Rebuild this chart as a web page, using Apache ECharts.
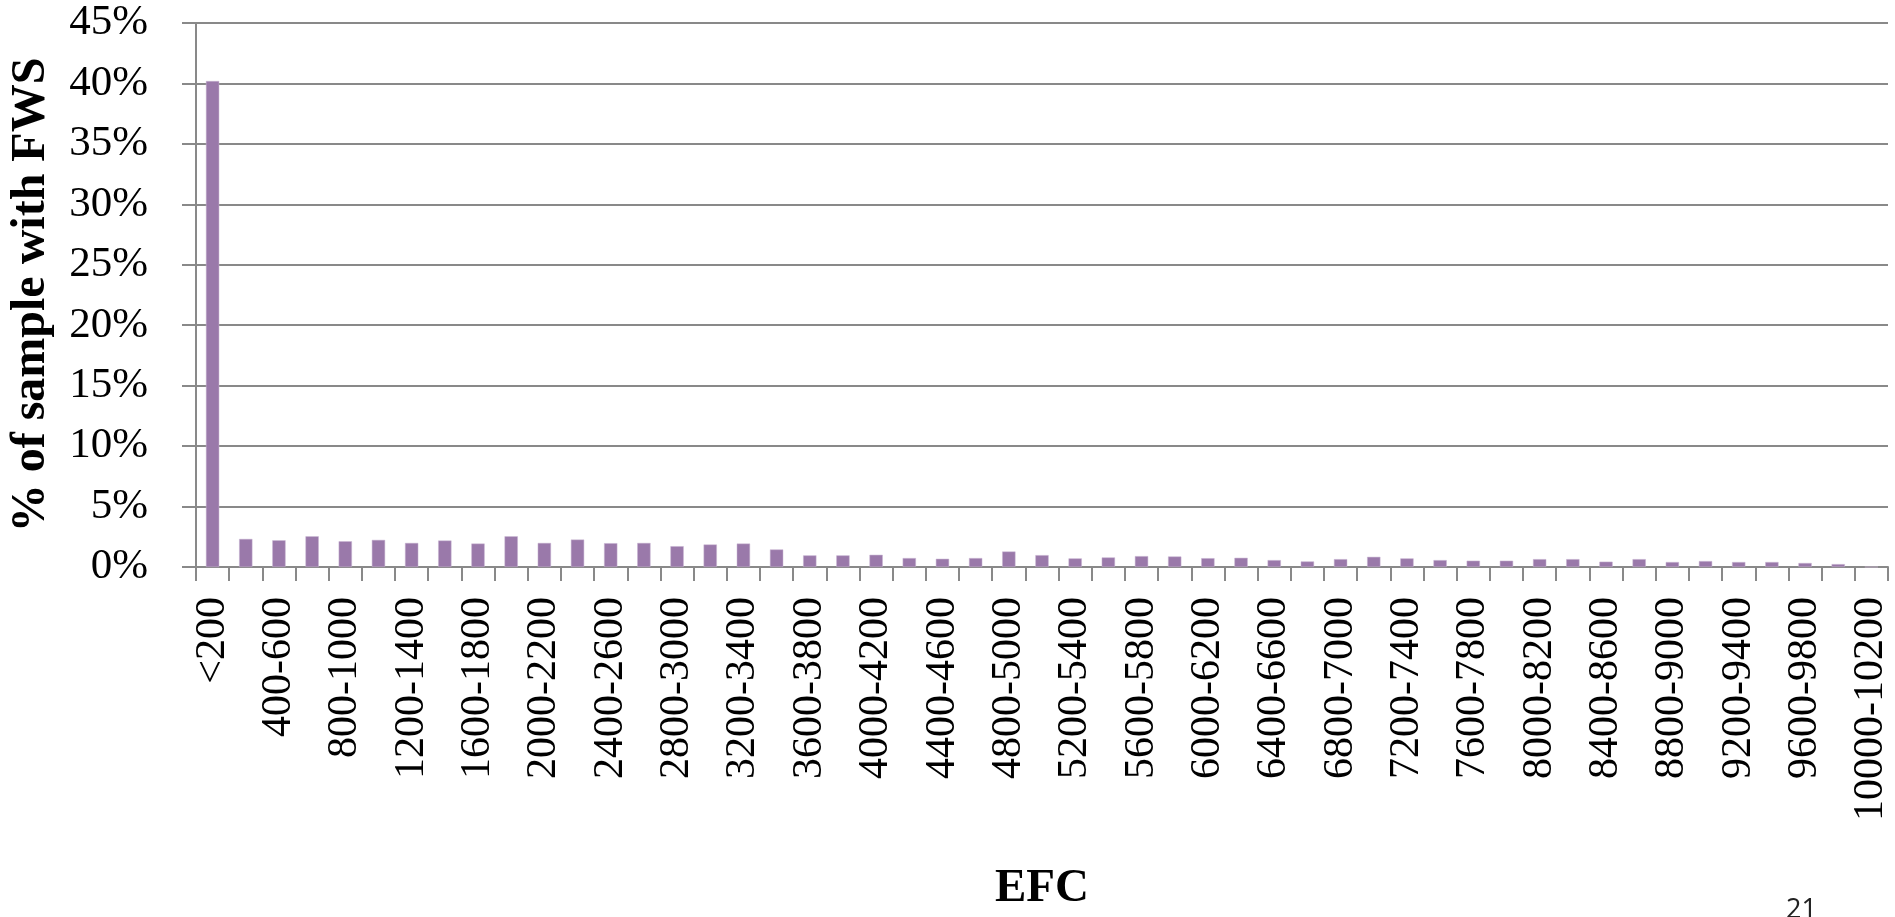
<!DOCTYPE html>
<html>
<head>
<meta charset="utf-8">
<script src="https://cdn.jsdelivr.net/npm/echarts@6/dist/echarts.min.js"></script>
<style>
  html, body { margin: 0; padding: 0; background: #ffffff; }
  #chart { width: 1895px; height: 917px; }
</style>
</head>
<body>
<div id="chart"></div>
<script>
// Categories (EFC bands)
const categories = [
  '<200', '200-400', '400-600', '600-800', '800-1000', '1000-1200', '1200-1400', '1400-1600',
  '1600-1800', '1800-2000', '2000-2200', '2200-2400', '2400-2600', '2600-2800', '2800-3000',
  '3000-3200', '3200-3400', '3400-3600', '3600-3800', '3800-4000', '4000-4200', '4200-4400',
  '4400-4600', '4600-4800', '4800-5000', '5000-5200', '5200-5400', '5400-5600', '5600-5800',
  '5800-6000', '6000-6200', '6200-6400', '6400-6600', '6600-6800', '6800-7000', '7000-7200',
  '7200-7400', '7400-7600', '7600-7800', '7800-8000', '8000-8200', '8200-8400', '8400-8600',
  '8600-8800', '8800-9000', '9000-9200', '9200-9400', '9400-9600', '9600-9800', '9800-10000',
  '10000-10200'
];

// % of sample with FWS in each band
const fwsShare = [
  40.2, 2.32, 2.21, 2.54, 2.13, 2.24, 1.99, 2.19, 1.94, 2.54, 1.99, 2.27, 1.97, 1.99, 1.72,
  1.86, 1.94, 1.45, 0.96, 0.96, 1.01, 0.74, 0.68, 0.74, 1.28, 0.98, 0.71, 0.79, 0.90, 0.87,
  0.73, 0.76, 0.57, 0.46, 0.65, 0.84, 0.71, 0.57, 0.52, 0.52, 0.65, 0.65, 0.44, 0.65, 0.41,
  0.49, 0.41, 0.41, 0.33, 0.24, 0
];

// Y-axis ticks (percent)
const yTicks = { min: 0, max: 45, step: 5 };

const xTitle = 'EFC';
const yTitle = '% of sample with FWS';
const pageNumber = '21';

const serif = 'Liberation Serif';
const gridColor = '#898989';

const chart = echarts.init(document.getElementById('chart'), null, { renderer: 'canvas' });
chart.setOption({
  animation: false,
  backgroundColor: '#ffffff',
  textStyle: { fontFamily: serif },
  grid: { left: 189, right: 7, top: 23, bottom: 342, containLabel: false },
  xAxis: {
    type: 'category',
    data: categories,
    boundaryGap: true,
    name: xTitle,
    nameLocation: 'middle',
    nameGap: 298,
    nameTextStyle: { fontFamily: serif, fontSize: 47, fontWeight: 'bold', color: '#000' },
    axisLine: { show: true, lineStyle: { color: gridColor, width: 2 } },
    axisTick: { show: true, interval: 0, length: 14, alignWithLabel: false, lineStyle: { color: gridColor, width: 2 } },
    axisLabel: {
      interval: 1,
      rotate: 90,
      margin: 30,
      fontFamily: serif,
      fontSize: 42,
      color: '#000'
    },
    splitLine: { show: false }
  },
  yAxis: {
    type: 'value',
    min: yTicks.min,
    max: yTicks.max,
    interval: yTicks.step,
    name: yTitle,
    nameLocation: 'middle',
    nameRotate: 90,
    nameGap: 140,
    nameTextStyle: { fontFamily: serif, fontSize: 48, fontWeight: 'bold', color: '#000' },
    axisLine: { show: true, lineStyle: { color: gridColor, width: 2 } },
    axisTick: { show: true, length: 14, lineStyle: { color: gridColor, width: 2 } },
    axisLabel: {
      formatter: '{value}%',
      margin: 48,
      fontFamily: serif,
      fontSize: 43,
      color: '#000'
    },
    splitLine: { show: true, lineStyle: { color: gridColor, width: 2 } }
  },
  series: [{
    type: 'bar',
    data: fwsShare,
    barWidth: '40%',
    itemStyle: { color: '#9a79aa', borderColor: '#c8b5d2', borderWidth: 0.5 }
  }],
  graphic: [{
    type: 'text',
    left: 1786,
    top: 897,
    style: { text: pageNumber, fontFamily: 'Open Sans', fontSize: 27, fill: '#222' }
  }]
});
</script>
</body>
</html>
